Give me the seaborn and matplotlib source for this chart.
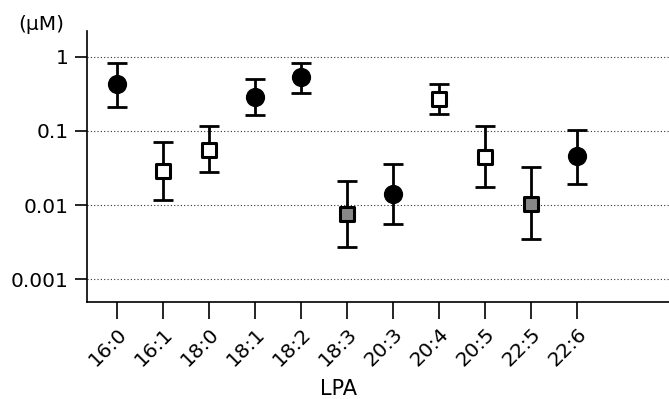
import numpy as np
import pandas as pd
import seaborn as sns
import matplotlib.pyplot as plt
from matplotlib.ticker import FixedLocator, FixedFormatter, NullLocator

sns.set_style("white")
plt.rcParams['font.family'] = ['DejaVu Sans']
plt.rcParams['text.color'] = 'black'
plt.rcParams['axes.labelcolor'] = 'black'

# data
lpa = ["16:0", "16:1", "18:0", "18:1", "18:2", "18:3", "20:3", "20:4", "20:5", "22:5", "22:6"]
conc = [0.43, 0.029, 0.056, 0.29, 0.53, 0.0076, 0.0139, 0.268, 0.045, 0.0103, 0.0455]
upper = [0.82, 0.072, 0.118, 0.50, 0.82, 0.021, 0.036, 0.43, 0.117, 0.0326, 0.104]
lower = [0.21, 0.0117, 0.028, 0.166, 0.33, 0.0027, 0.0055, 0.17, 0.0175, 0.0035, 0.019]
group = ["sat", "open", "open", "sat", "sat", "grey", "sat", "open", "open", "grey", "sat"]

df = pd.DataFrame({"LPA": lpa, "conc": conc, "upper": upper, "lower": lower, "group": group})
df["pos"] = range(len(df))

fig = plt.figure(figsize=(6.69, 3.99), dpi=100)
ax = fig.add_axes([87/669, 1 - 302/399, 1 - 87/669, (302 - 31)/399])

yerr = np.array([df["conc"] - df["lower"], df["upper"] - df["conc"]])
ax.errorbar(df["pos"], df["conc"], yerr=yerr, fmt="none", ecolor="black",
            elinewidth=2, capsize=7, capthick=2, zorder=2)

sns.scatterplot(data=df[df["group"] == "sat"], x="pos", y="conc", ax=ax,
                marker="o", s=165, color="black", edgecolor="black", linewidth=1, zorder=3, legend=False)
sns.scatterplot(data=df[df["group"] == "open"], x="pos", y="conc", ax=ax,
                marker="s", s=100, color="white", edgecolor="black", linewidth=2.2, zorder=3, legend=False)
sns.scatterplot(data=df[df["group"] == "grey"], x="pos", y="conc", ax=ax,
                marker="s", s=100, color="#888888", edgecolor="black", linewidth=2.2, zorder=3, legend=False)

ax.set_yscale("log")
ax.set_ylim(10**-3.31, 10**0.35)
ax.set_xlim(-0.65, 12.0)
ax.yaxis.set_major_locator(FixedLocator([0.001, 0.01, 0.1, 1]))
ax.yaxis.set_major_formatter(FixedFormatter(["0.001", "0.01", "0.1", "1"]))
ax.yaxis.set_minor_locator(NullLocator())
ax.set_xticks(df["pos"])
ax.set_xticklabels(df["LPA"], rotation=45, ha="right", rotation_mode="anchor")

ax.grid(axis="y", linestyle=(0, (1, 2)), color="#333333", linewidth=0.8)
ax.set_axisbelow(True)
sns.despine(ax=ax)
for s in ["left", "bottom"]:
    ax.spines[s].set_linewidth(1.2)
    ax.spines[s].set_color("black")
ax.tick_params(axis="both", direction="out", length=9, width=1.2, color="black",
               labelsize=14.5, labelcolor="black", pad=4, left=True, bottom=True)
ax.tick_params(axis="x", length=12, pad=4)

ax.set_ylabel("")
ax.set_xlabel("LPA", fontsize=15)
ax.xaxis.set_label_coords((338 - 87)/582, -0.285)
fig.text(41/669, 1 - 25/399, "(μM)", fontsize=14.5, ha="center", va="center")

fig.savefig("out.png", dpi=100)
